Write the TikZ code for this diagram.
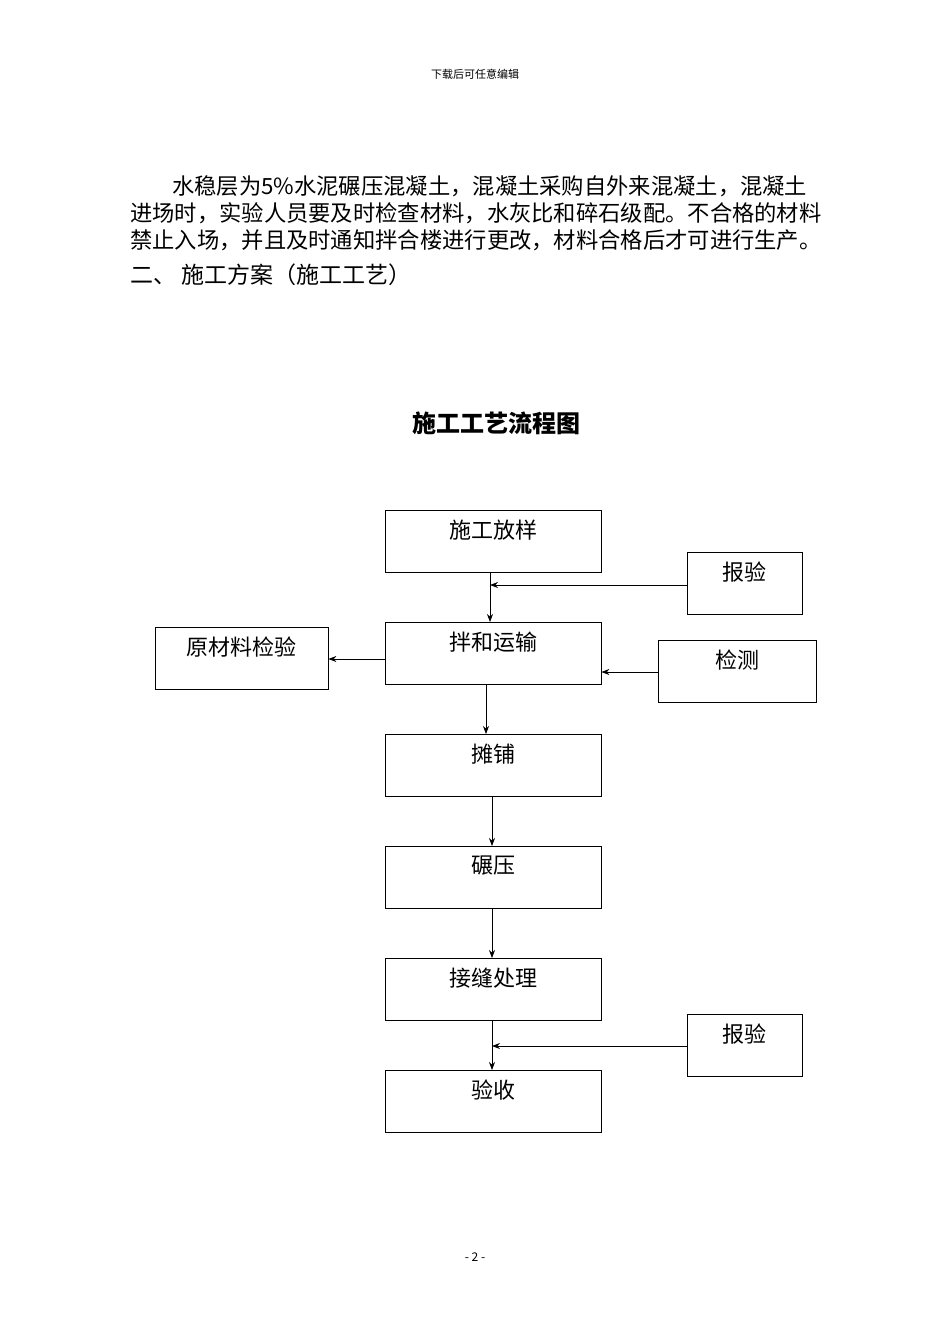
\documentclass[tikz,border=0pt]{standalone}
\usepackage{fontspec}
\setmainfont{Noto Sans CJK SC}
\usetikzlibrary{arrows.meta}
\tikzset{
  box/.style={draw,line width=0.8pt,minimum height=62pt,inner sep=0pt},
  lbl/.style={font=\fontsize{22}{24}\selectfont},
  arr/.style={-{Stealth[length=8pt,width=6pt]},line width=0.7pt},
  para/.style={anchor=west,font=\fontsize{22.3}{24}\selectfont,inner sep=0pt}
}
\begin{document}
\begin{tikzpicture}[x=1pt,y=-1pt]
\useasboundingbox (0,0) rectangle (950,1344);
\node[font=\fontsize{11}{12}\selectfont] (hdr) at (475,74) {下载后可任意编辑};
\node[para] (p1) at (172,186) {水稳层为5\%水泥碾压混凝土，混凝土采购自外来混凝土，混凝土};
\node[para] (p2) at (130,213) {进场时，实验人员要及时检查材料，水灰比和碎石级配。不合格的材料};
\node[para] (p3) at (130,240) {禁止入场，并且及时通知拌合楼进行更改，材料合格后才可进行生产。};
\node[para,font=\fontsize{23}{26}\selectfont] (h2) at (130,275) {二、\ 施工方案（施工工艺）};
\node[font=\bfseries\fontsize{24}{26}\selectfont] (title) at (496,423) {施工工艺流程图};
\node[font=\fontsize{12}{14}\selectfont] (ftr) at (475,1257) {- 2 -};
\newcommand{\bx}[5]{\node[box,minimum width=#4pt] (#1) at (#2,#3) {};
  \node[lbl] (#1t) at ([yshift=11pt]#1.center) {#5};}
\bx{a}{493}{541}{216}{施工放样}
\bx{bya}{744.5}{583}{115}{报验}
\bx{b}{493}{653}{216}{拌和运输}
\bx{yl}{241.5}{658.5}{173}{原材料检验}
\bx{jc}{737}{671}{158}{检测}
\bx{c}{493}{765}{216}{摊铺}
\bx{d}{493}{877}{216}{碾压}
\bx{e}{493}{989}{216}{接缝处理}
\bx{byb}{744.5}{1045}{115}{报验}
\bx{f}{493}{1101}{216}{验收}
\coordinate (m1) at (490,585);
\coordinate (m2) at (492,1046);
\draw[line width=0.7pt] (490,572) -- (m1);
\draw[arr] (m1) -- (490,622);
\draw[arr] (bya.west |- m1) -- (m1);
\draw[arr] (b.west |- 0,659) -- (yl.east |- 0,659);
\draw[arr] (jc.west |- 0,672) -- (b.east |- 0,672);
\draw[arr] (486,684) -- (486,734);
\draw[arr] (492,796) -- (492,846);
\draw[arr] (492,908) -- (492,958);
\draw[line width=0.7pt] (492,1020) -- (m2);
\draw[arr] (m2) -- (492,1070);
\draw[arr] (byb.west |- m2) -- (m2);
\end{tikzpicture}
\end{document}
